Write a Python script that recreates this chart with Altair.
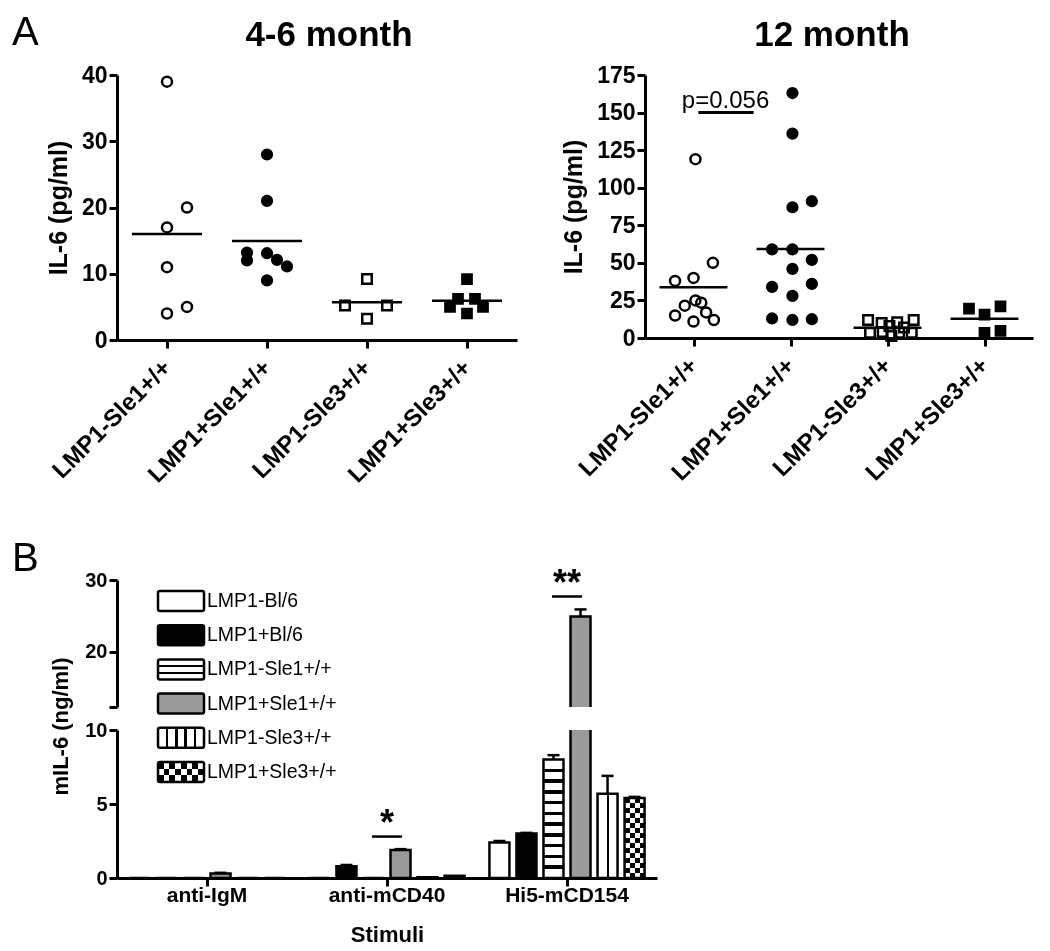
import json
import altair as alt
import pandas as pd

FONT = "Liberation Sans"

# ---------------- Panel A data ----------------
groups = ["LMP1-Sle1+/+", "LMP1+Sle1+/+", "LMP1-Sle3+/+", "LMP1+Sle3+/+"]

# 4-6 month, IL-6 (pg/ml); *_dx = horizontal scatter offset within the column
m46_sle1_neg = [39, 17, 20, 11, 5, 4]
m46_sle1_neg_dx = [0, 0, 0.2, 0, 0.2, 0]
m46_sle1_pos = [28, 21, 13.2, 12, 13.1, 12.1, 11.1, 9]
m46_sle1_pos_dx = [0, 0, -0.2, -0.2, 0, 0.1, 0.2, 0]
m46_sle3_neg = [9.2, 5.2, 5.2, 3.2]
m46_sle3_neg_dx = [0, -0.22, 0.2, 0]
m46_sle3_pos = [9.2, 6.2, 6.2, 5.0, 5.0, 4.0]
m46_sle3_pos_dx = [0, -0.09, 0.08, -0.17, 0.16, 0]

# 12 month
m12_sle1_neg = [119, 50, 38, 40, 25, 23.5, 21.5, 17, 15, 11, 12]
m12_sle1_neg_dx = [0.02, 0.2, -0.19, 0.0, 0.02, 0.08, -0.09, 0.13, -0.19, 0.0, 0.21]
m12_sle1_pos = [163, 136, 91, 87, 59, 59, 52, 46, 36, 34, 28, 13, 12, 12.5]
m12_sle1_pos_dx = [0.02, 0.02, 0.22, 0.02, -0.19, 0.02, 0.22, 0.02, 0.22, -0.19, 0.02, -0.19, 0.02, 0.22]
m12_sle3_neg = [12, 12, 10, 10.5, 8, 7, 3.5, 4, 3.5, 3.5, 1.3]
m12_sle3_neg_dx = [-0.2, 0.27, -0.06, 0.1, 0.02, 0.17, -0.18, -0.05, 0.12, 0.25, 0.04]
m12_sle3_pos = [19.5, 15.5, 21, 3.5, 4.7]
m12_sle3_pos_dx = [-0.16, 0, 0.165, 0, 0.165]

p_label = ["p=0.056"]
p_line_x0 = [0.05]
p_line_x1 = [0.62]
p_line_y = [150]
p_text_x = [0.33]
p_text_y = [153]

# ---------------- Panel B data ----------------
stimuli = ["anti-IgM", "anti-mCD40", "Hi5-mCD154"]
series = ["LMP1-Bl/6", "LMP1+Bl/6", "LMP1-Sle1+/+", "LMP1+Sle1+/+", "LMP1-Sle3+/+", "LMP1+Sle3+/+"]
b_bl6_neg = [0, 0, 2.4]
b_bl6_neg_err = [0, 0, 0.1]
b_bl6_pos = [0, 0.8, 3.0]
b_bl6_pos_err = [0, 0.08, 0.05]
b_sle1_neg = [0, 0, 8.0]
b_sle1_neg_err = [0, 0, 0.3]
b_sle1_pos = [0.3, 1.9, 24.9]
b_sle1_pos_err = [0.05, 0.05, 1.0]
b_sle3_neg = [0, 0.05, 5.7]
b_sle3_neg_err = [0, 0, 1.2]
b_sle3_pos = [0, 0.15, 5.4]
b_sle3_pos_err = [0, 0, 0.08]

sig_stim = ["anti-mCD40", "Hi5-mCD154"]
sig_y = [2.8, 27.7]
sig_label = ["*", "**"]

LABEL_EXPR = json.dumps(groups) + "[datum.value]"


def text_at(t, x, y, size, weight="normal", align="left"):
    return alt.Chart(pd.DataFrame({"t": [t]})).mark_text(
        text=t, fontSize=size, font=FONT, fontWeight=weight, align=align,
        baseline="alphabetic", color="black").encode(x=alt.value(x), y=alt.value(y))


def scatter_panel(vals, dxs, ymax, yvals, title, width, height, title_dx, sizes, annotate=False, lett=None):
    rows = []
    for gi, (vv, dd) in enumerate(zip(vals, dxs)):
        for v, d in zip(vv, dd):
            rows.append({"group": groups[gi], "idx": gi, "val": v, "x": gi + d})
    df = pd.DataFrame(rows)
    xs = alt.Scale(domain=[-0.5, 3.5], nice=False, zero=False)
    ys = alt.Scale(domain=[0, ymax], nice=False)
    xaxis = alt.Axis(values=[0, 1, 2, 3], labelExpr=LABEL_EXPR, title=None, labelAngle=-45,
                     labelAlign="right", labelBaseline="middle", labelFontSize=24,
                     labelPadding=16, tickSize=8, grid=False, labelOverlap=False, labelBound=False)
    yaxis = alt.Axis(values=yvals, title="IL-6 (pg/ml)", labelFontSize=23, titleFontSize=25,
                     tickSize=8, titlePadding=10, grid=False, labelOverlap=False)
    pts = alt.Chart(df).mark_point(filled=True, opacity=1, strokeWidth=2.5, stroke="black").encode(
        x=alt.X("x:Q", scale=xs, axis=xaxis),
        y=alt.Y("val:Q", scale=ys, axis=yaxis),
        shape=alt.Shape("group:N", scale=alt.Scale(domain=groups, range=["circle", "circle", "square", "square"]), legend=None),
        fill=alt.Fill("group:N", scale=alt.Scale(domain=groups, range=["transparent", "black", "transparent", "black"]), legend=None),
        size=alt.Size("group:N", scale=alt.Scale(domain=groups, range=sizes), legend=None),
    )
    means = alt.Chart(df).transform_aggregate(m="mean(val)", groupby=["idx"]).transform_calculate(
        x0="datum.idx - 0.35", x1="datum.idx + 0.35").mark_rule(color="black", strokeWidth=2.5).encode(
        x=alt.X("x0:Q", scale=xs, axis=xaxis), x2=alt.X2("x1"), y=alt.Y("m:Q", scale=ys, axis=yaxis))
    layers = [pts, means]
    if annotate:
        pdf = pd.DataFrame({"x0": p_line_x0, "x1": p_line_x1, "y": p_line_y, "tx": p_text_x, "ty": p_text_y, "label": p_label})
        layers.append(alt.Chart(pdf).mark_rule(color="black", strokeWidth=3).encode(
            x=alt.X("x0:Q", scale=xs, axis=xaxis), x2=alt.X2("x1"), y=alt.Y("y:Q", scale=ys, axis=yaxis)))
        layers.append(alt.Chart(pdf).mark_text(fontSize=24, font=FONT, fontWeight="normal", color="black",
                                               baseline="alphabetic").encode(
            x=alt.X("tx:Q", scale=xs, axis=xaxis), y=alt.Y("ty:Q", scale=ys, axis=yaxis), text="label:N"))
    # panel title (as text so that it sits level with the panel letter)
    layers.append(text_at(title, width / 2 + title_dx, -29, 35, "bold", "center"))
    if lett:
        layers.append(text_at(lett[0], lett[1], lett[2], 40))
    return alt.layer(*layers).properties(width=width, height=height)


SIZES = [100, 85, 130, 70]
A_left = scatter_panel([m46_sle1_neg, m46_sle1_pos, m46_sle3_neg, m46_sle3_pos],
                       [m46_sle1_neg_dx, m46_sle1_pos_dx, m46_sle3_neg_dx, m46_sle3_pos_dx],
                       40, [0, 10, 20, 30, 40], "4-6 month", 400, 265, 12, SIZES,
                       lett=("A", -105, -30))
A_right = scatter_panel([m12_sle1_neg, m12_sle1_pos, m12_sle3_neg, m12_sle3_pos],
                        [m12_sle1_neg_dx, m12_sle1_pos_dx, m12_sle3_neg_dx, m12_sle3_pos_dx],
                        175, [0, 25, 50, 75, 100, 125, 150, 175], "12 month", 388, 263, -7, SIZES,
                        annotate=True)

# ---------------- Panel B ----------------
b_values = [b_bl6_neg, b_bl6_pos, b_sle1_neg, b_sle1_pos, b_sle3_neg, b_sle3_pos]
b_errors = [b_bl6_neg_err, b_bl6_pos_err, b_sle1_neg_err, b_sle1_pos_err, b_sle3_neg_err, b_sle3_pos_err]
rows = []
for s, vals, errs in zip(series, b_values, b_errors):
    for st, v, e in zip(stimuli, vals, errs):
        rows.append({"stim": st, "series": s, "val": v, "err": e, "hi": v + e, "zero": 0})
dfB = pd.DataFrame(rows)


def grad(stops, direction):
    g = {"gradient": "linear", "stops": stops, "x1": 0, "y1": 0}
    if direction == "v":
        g.update({"x2": 0, "y2": 1})
    else:
        g.update({"x2": 1, "y2": 0})
    return g


def bands(n, direction, first="white"):
    cols = [first, "black" if first == "white" else "white"]
    stops = []
    for i in range(n):
        c = cols[i % 2]
        stops.append({"offset": i / n, "color": c})
        stops.append({"offset": (i + 1) / n, "color": c})
    return grad(stops, direction)


def lines(positions, thick, direction):
    stops = [{"offset": 0, "color": "white"}]
    for p in positions:
        a, b = p - thick / 2, p + thick / 2
        stops += [{"offset": a, "color": "white"}, {"offset": a, "color": "black"},
                  {"offset": b, "color": "black"}, {"offset": b, "color": "white"}]
    stops.append({"offset": 1, "color": "white"})
    return grad(stops, direction)


SW = 2.5


def styles(kind):
    bar = kind == "bar"
    return {
        "LMP1-Bl/6": [dict(fill="white", stroke="black", strokeWidth=SW)],
        "LMP1+Bl/6": [dict(fill="black", stroke="black", strokeWidth=SW)],
        "LMP1-Sle1+/+": [dict(fill=lines([i / 11 for i in range(1, 11)], 0.03, "v") if bar
                              else lines([1 / 3, 2 / 3], 0.12, "v"), stroke="black", strokeWidth=SW)],
        "LMP1+Sle1+/+": [dict(fill="#9a9a9a", stroke="black", strokeWidth=SW)],
        "LMP1-Sle3+/+": [dict(fill=lines([0.5], 0.1, "h") if bar else lines([0.2, 0.4, 0.6, 0.8], 0.05, "h"),
                              stroke="black", strokeWidth=SW)],
        # checkerboard: horizontal bands XOR vertical bands (difference blend), then outline
        "LMP1+Sle3+/+": [dict(fill=bands(16 if bar else 3, "v"), strokeWidth=0, clip=False),
                         dict(fill=bands(4 if bar else 8, "h"), strokeWidth=0, blend="difference", clip=False),
                         dict(fill="transparent", stroke="black", strokeWidth=SW, clip=False)],
    }


def b_layers(ydomain, yaxis, xaxis, sig_idx):
    X = alt.X("stim:N", scale=alt.Scale(domain=stimuli, paddingInner=0, paddingOuter=0), axis=xaxis, sort=stimuli)
    XO = alt.XOffset("series:N", scale=alt.Scale(domain=series, paddingInner=0.26, paddingOuter=0.46))
    ys = alt.Scale(domain=ydomain, nice=False, zero=False)
    Y = alt.Y("val:Q", scale=ys, axis=yaxis)
    lo = ydomain[0]
    st = styles("bar")
    layers = []
    for s in series:
        base = alt.Chart(dfB).transform_filter(alt.datum.series == s).transform_filter(
            f"datum.val >= {lo}")
        for spec in st[s]:
            spec = dict(spec)
            clip = spec.pop("clip", True)
            layers.append(base.mark_bar(clip=clip, **spec).encode(x=X, xOffset=XO, y=Y, y2=alt.Y2("zero")))
    err = alt.Chart(dfB).transform_filter(f"datum.err > 0 && datum.val >= {lo}")
    layers.append(err.mark_rule(clip=True, color="black", strokeWidth=2.5).encode(
        x=X, xOffset=XO, y=Y, y2=alt.Y2("hi")))
    layers.append(err.mark_tick(clip=True, color="black", size=12, thickness=2.5, opacity=1).encode(
        x=X, xOffset=XO, y=alt.Y("hi:Q", scale=ys, axis=yaxis)))
    sdf = pd.DataFrame({"stim": [sig_stim[sig_idx]], "y": [sig_y[sig_idx]], "label": [sig_label[sig_idx]]})
    layers.append(alt.Chart(sdf).mark_tick(color="black", size=30, thickness=2.5, opacity=1).encode(
        x=X, y=alt.Y("y:Q", scale=ys, axis=yaxis)))
    layers.append(alt.Chart(sdf).mark_text(fontSize=36, font=FONT, fontWeight="bold", color="black",
                                           baseline="alphabetic", dy=-2).encode(
        x=X, y=alt.Y("y:Q", scale=ys, axis=yaxis), text="label:N"))
    return layers


yaxis_top = alt.Axis(values=[12.3, 20, 30], labelExpr="datum.value < 15 ? '' : datum.label",
                     title=None, labelFontSize=20, tickSize=8, grid=False)
yaxis_bot = alt.Axis(values=[0, 5, 10], title="mIL-6 (ng/ml)", labelFontSize=20, titleFontSize=22,
                     tickSize=8, titlePadding=12, titleY=-4, grid=False)
xaxis_bot = alt.Axis(title="Stimuli", labelAngle=0, labelFontSize=21, titleFontSize=22, tickSize=8,
                     labelPadding=-2, titlePadding=19, grid=False)

top_bars = alt.layer(*b_layers([12.3, 30], yaxis_top, None, 1), text_at("B", -105, -9, 40))

legend_df = pd.DataFrame({"series": series, "lx0": [0] * len(series), "lx1": [1] * len(series)})
LY = alt.Y("series:N", scale=alt.Scale(domain=series, range=[4, 209], paddingInner=0.415, paddingOuter=0.2075), axis=None)
LXS = alt.Scale(domain=[0, 1], range=[41, 87])
leg_layers = []
lst = styles("legend")
for s in series:
    base = alt.Chart(legend_df).transform_filter(alt.datum.series == s)
    for spec in lst[s]:
        spec = dict(spec)
        spec.pop("clip", None)
        leg_layers.append(base.mark_rect(cornerRadius=2, **spec).encode(
            x=alt.X("lx0:Q", scale=LXS, axis=None), x2=alt.X2("lx1"), y=LY))
leg_layers.append(alt.Chart(legend_df).mark_text(align="left", baseline="middle", fontSize=19.5, font=FONT,
                                                 fontWeight="normal", color="black", dx=3).encode(
    x=alt.X("lx1:Q", scale=LXS, axis=None), y=LY, text="series:N"))
legend_layer = alt.layer(*leg_layers)

B_top = alt.layer(top_bars, legend_layer).resolve_scale(x="independent", y="independent").properties(
    width=540, height=127)
B_bottom = alt.layer(*b_layers([0, 10], yaxis_bot, xaxis_bot, 0)).properties(width=540, height=148)

B_block = alt.vconcat(B_top, B_bottom, spacing=23, bounds="flush")
A_row = alt.hconcat(A_left, A_right, spacing=128, bounds="flush")

chart = alt.vconcat(A_row, B_block, spacing=51).properties(
    padding={"left": 4, "top": 5, "right": 4, "bottom": 2}
).configure(font=FONT).configure_view(stroke=None).configure_axis(
    domainColor="black", tickColor="black", labelColor="black", titleColor="black",
    domainWidth=3, tickWidth=3, labelFont=FONT, titleFont=FONT,
    labelFontWeight="bold", titleFontWeight="bold", grid=False)

chart.save("out.html", embed_options={"renderer": "svg", "actions": False})
